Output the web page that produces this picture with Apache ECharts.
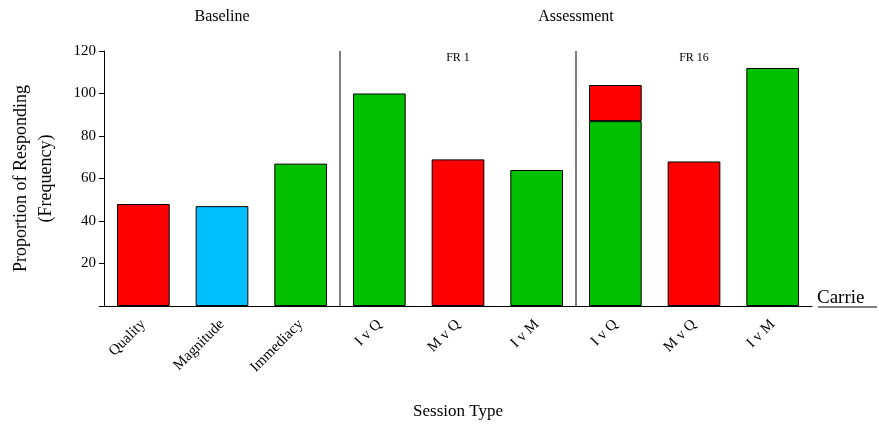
<!DOCTYPE html>
<html>
<head>
<meta charset="utf-8">
<script src="https://cdn.jsdelivr.net/npm/echarts@6/dist/echarts.min.js"></script>
<style>
  html, body { margin: 0; padding: 0; background: #fff; }
  #container { width: 879px; height: 425px; }
</style>
</head>
<body>
<div id="container"></div>
<script>
// session categories along the x axis
const categories = ['Quality', 'Magnitude', 'Immediacy', 'I v Q', 'M v Q', 'I v M', 'I v Q ', 'M v Q ', 'I v M '];
// responding per session, split by which bar colour it is drawn in (stacked)
const greenValues = ['-', '-', 67, 100, '-', 64, 87, '-', 112];
const blueValues = ['-', 47, '-', '-', '-', '-', '-', '-', '-'];
const redValues = [48, '-', '-', '-', 69, '-', 17, 68, '-'];
const yTicks = [0, 20, 40, 60, 80, 100, 120];

const serif = '"Liberation Serif", "DejaVu Serif", serif';

var dom = document.getElementById('container');
var myChart = echarts.init(dom, null, { renderer: 'canvas' });

function barSeries(name, data, color) {
  return {
    name: name,
    type: 'bar',
    stack: 'total',
    data: data,
    barCategoryGap: '33%',
    itemStyle: { color: color, borderColor: '#000', borderWidth: 1 },
    animation: false
  };
}

var option = {
  animation: false,
  grid: { left: 104, right: 67, top: 51, bottom: 119, containLabel: false, outerBoundsMode: 'none' },
  xAxis: {
    type: 'category',
    data: categories,
    name: 'Session Type',
    nameLocation: 'middle',
    nameGap: 97,
    nameTextStyle: { fontFamily: serif, fontSize: 17, color: '#000' },
    axisLine: { lineStyle: { color: '#000', width: 1 } },
    axisTick: { alignWithLabel: true, length: 6, lineStyle: { color: '#555' } },
    axisLabel: {
      rotate: 45,
      margin: 16,
      fontFamily: serif,
      fontSize: 15,
      color: '#000',
      formatter: function (v) { return v.trim(); }
    }
  },
  yAxis: {
    type: 'value',
    min: yTicks[0],
    max: yTicks[yTicks.length - 1],
    interval: 20,
    name: 'Proportion of Responding\n(Frequency)',
    nameLocation: 'middle',
    nameRotate: 90,
    nameGap: 45,
    nameTextStyle: { fontFamily: serif, fontSize: 18, color: '#000', lineHeight: 25 },
    axisLine: { show: true, lineStyle: { color: '#000', width: 1 } },
    axisTick: { show: true, length: 5, lineStyle: { color: '#000' } },
    splitLine: { show: false },
    axisLabel: {
      fontFamily: serif,
      fontSize: 15,
      color: '#000',
      margin: 8,
      formatter: function (v) { return v === 0 ? '' : v; }
    }
  },
  series: [
    barSeries('Green', greenValues, '#00C000'),
    barSeries('Blue', blueValues, '#00BFFF'),
    barSeries('Red', redValues, '#FF0000')
  ]
};
myChart.setOption(option);

// group dividers and labels placed from the axes
function px(i) { return myChart.convertToPixel({ xAxisIndex: 0 }, i); }
function py(v) { return myChart.convertToPixel({ yAxisIndex: 0 }, v); }
var half = (px(1) - px(0)) / 2;
var yTop = py(120), yBot = py(0);
var div1 = px(2) + half, div2 = px(5) + half;
var xEnd = px(8) + half;

myChart.setOption({
  graphic: [
    { type: 'line', shape: { x1: div1, y1: yTop, x2: div1, y2: yBot }, style: { stroke: '#000', lineWidth: 1 } },
    { type: 'line', shape: { x1: div2, y1: yTop, x2: div2, y2: yBot }, style: { stroke: '#000', lineWidth: 1 } },
    { type: 'text', x: px(1), y: 17, style: { text: 'Baseline', font: '16px ' + serif, fill: '#000', align: 'center', verticalAlign: 'middle' } },
    { type: 'text', x: div2, y: 17, style: { text: 'Assessment', font: '16px ' + serif, fill: '#000', align: 'center', verticalAlign: 'middle' } },
    { type: 'text', x: px(4), y: 58, style: { text: 'FR 1', font: '12px ' + serif, fill: '#000', align: 'center', verticalAlign: 'middle' } },
    { type: 'text', x: px(7), y: 58, style: { text: 'FR 16', font: '12px ' + serif, fill: '#000', align: 'center', verticalAlign: 'middle' } },
    { type: 'text', x: xEnd + 5, y: yBot + 2, style: { text: 'Carrie', font: '19px ' + serif, fill: '#000', align: 'left', verticalAlign: 'bottom' } },
    { type: 'line', shape: { x1: xEnd + 6, y1: yBot + 1, x2: 877, y2: yBot + 1 }, style: { stroke: '#000', lineWidth: 1 } }
  ]
});
</script>
</body>
</html>
